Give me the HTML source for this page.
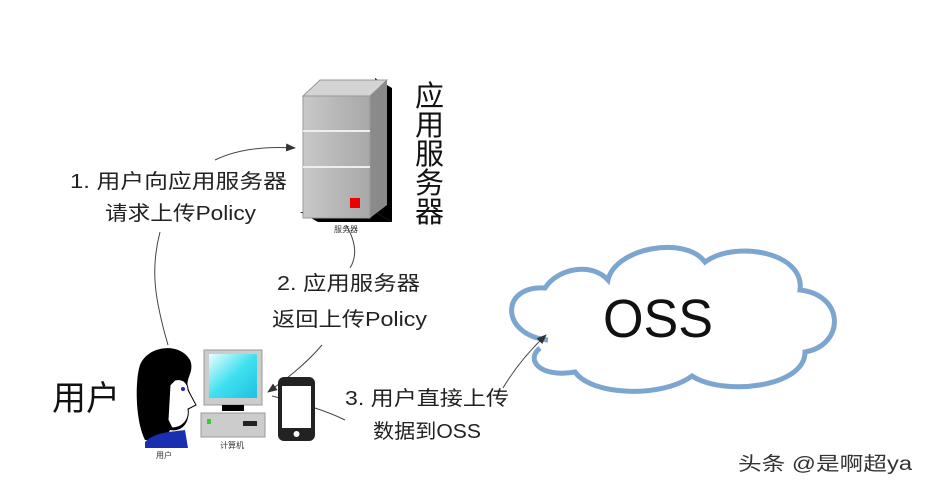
<!DOCTYPE html>
<html><head><meta charset="utf-8"><style>
body{margin:0;background:#fff;}
svg text{font-family:"Liberation Sans","Noto Sans CJK SC",sans-serif;}
</style></head><body>
<svg width="926" height="487" viewBox="0 0 926 487" xmlns="http://www.w3.org/2000/svg">
<defs>
<marker id="a" markerWidth="10" markerHeight="8" refX="9" refY="4" orient="auto" markerUnits="userSpaceOnUse"><path d="M0,0 L10,4 L0,8 Z" fill="#333"/></marker>
<linearGradient id="scr" x1="0" y1="0" x2="1" y2="1"><stop offset="0" stop-color="#e8ffff"/><stop offset="0.5" stop-color="#40e0f0"/><stop offset="1" stop-color="#20c0e0"/></linearGradient>
<linearGradient id="sv" x1="0" y1="0" x2="1" y2="0"><stop offset="0" stop-color="#c8c8c8"/><stop offset="1" stop-color="#a8a8a8"/></linearGradient>
</defs>
<!-- cloud -->
<path d="M548,340 C500,335 500,285 545,288 C558,268 592,262 608,280 C615,248 685,235 705,262 C735,240 805,252 800,290 C845,295 845,345 805,352 C805,388 722,396 692,376 C662,398 592,396 575,372 C540,378 525,360 540,348" fill="#fff" stroke="#7ca6cf" stroke-width="5"/>
<text x="603" y="337" font-size="54" fill="#111" textLength="110" lengthAdjust="spacingAndGlyphs">OSS</text>
<!-- server -->
<polygon points="375,78 392,88 392,222 375,212" fill="#000"/>
<polygon points="300,212 375,212 392,222 318,222" fill="#000"/>
<polygon points="303,96 370,96 387,80 320,80" fill="#d4d4d4" stroke="#999"/>
<polygon points="370,96 387,80 387,205 370,218" fill="#8a8a8a"/>
<rect x="303" y="96" width="67" height="122" fill="url(#sv)" stroke="#999"/>
<line x1="303" y1="131" x2="370" y2="131" stroke="#eee" stroke-width="2"/>
<line x1="303" y1="167" x2="370" y2="167" stroke="#eee" stroke-width="2"/>
<rect x="350" y="198" width="10" height="10" fill="#e00"/>
<text x="334" y="232" font-size="8" fill="#333">服务器</text>
<text font-size="29" fill="#111"><tspan x="415" y="106">应</tspan><tspan x="415" y="135">用</tspan><tspan x="415" y="164">服</tspan><tspan x="415" y="193">务</tspan><tspan x="415" y="222">器</tspan></text>
<!-- labels -->
<g font-size="20" fill="#222">
<text x="70" y="188" textLength="217" lengthAdjust="spacingAndGlyphs">1. 用户向应用服务器</text>
<text x="105" y="220" textLength="151" lengthAdjust="spacingAndGlyphs">请求上传Policy</text>
<text x="277" y="290" textLength="143" lengthAdjust="spacingAndGlyphs">2. 应用服务器</text>
<text x="272" y="326" textLength="155" lengthAdjust="spacingAndGlyphs">返回上传Policy</text>
<text x="345" y="405" textLength="164" lengthAdjust="spacingAndGlyphs">3. 用户直接上传</text>
<text x="373" y="438" textLength="108" lengthAdjust="spacingAndGlyphs">数据到OSS</text>
</g>
<text x="52" y="410" font-size="34" fill="#111" textLength="68" lengthAdjust="spacingAndGlyphs">用户</text>
<!-- connectors -->
<g fill="none" stroke="#444" stroke-width="1">
<path d="M168,345 C155,300 150,270 160,232"/>
<path d="M215,160 C235,150 262,146 295,148" marker-end="url(#a)"/>
<path d="M346,225 C355,240 358,255 350,268"/>
<path d="M322,345 C305,365 285,380 268,392" marker-end="url(#a)"/>
<path d="M272,396 C300,403 325,410 345,420"/>
<path d="M503,388 C515,368 530,350 546,335" marker-end="url(#a)"/>
</g>
<!-- person -->
<path d="M145,440 C135,420 135,380 140,365 C148,345 180,342 190,360 C195,372 185,378 188,388 L195,405 L188,410 C190,425 180,432 170,430 L165,440 Z" fill="#000"/>
<path d="M175,380 C185,378 188,385 188,390 L196,405 L188,409 C190,420 182,428 172,428 L168,420 L170,385 Z" fill="#fff" stroke="#000"/>
<circle cx="183" cy="389" r="2" fill="#22c"/>
<path d="M145,442 C155,432 170,432 185,430 L188,448 L145,448 Z" fill="#1a2fb0"/>
<text x="156" y="458" font-size="8" fill="#333">用户</text>
<!-- computer -->
<rect x="204" y="350" width="58" height="55" fill="#ccc" stroke="#999"/>
<rect x="209" y="354" width="48" height="44" fill="url(#scr)"/>
<rect x="222" y="405" width="22" height="6" fill="#000"/>
<rect x="201" y="413" width="64" height="24" fill="#ccc" stroke="#999"/>
<rect x="207" y="419" width="4" height="5" fill="#3c3"/>
<rect x="243" y="421" width="14" height="5" fill="#222"/>
<text x="220" y="448" font-size="8" fill="#333">计算机</text>
<!-- phone -->
<rect x="278" y="377" width="37" height="64" rx="6" fill="#222"/>
<rect x="282" y="386" width="29" height="42" fill="#fff"/>
<circle cx="296.5" cy="434" r="3" fill="#fff"/>
<text x="738" y="470" font-size="19" fill="#333" textLength="174" lengthAdjust="spacingAndGlyphs">头条 @是啊超ya</text>
</svg>
</body></html>
